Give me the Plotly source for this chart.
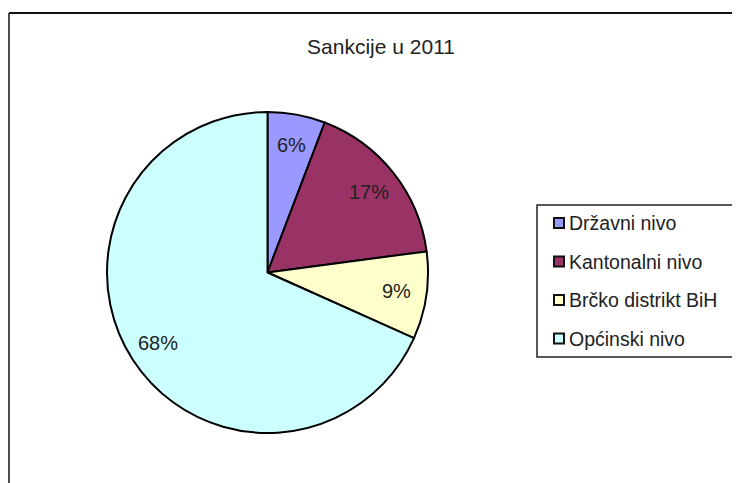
import math
import plotly.graph_objects as go

# Data
categories = ["Državni nivo", "Kantonalni nivo", "Brčko distrikt BiH", "Općinski nivo"]
values = [5.8, 17.1, 8.8, 68.3]
colors = ["#9999FF", "#993366", "#FFFFCC", "#CCFFFF"]
title_text = "Sankcije u 2011"

W, H = 740, 483
OFF = 8  # page body margin


def px(x):
    return (x - OFF) / W


def py(y):
    return 1 - (y - OFF) / H


FONT = "Liberation Sans, Arial, sans-serif"
cx, cy, r = 267.5, 272.5, 160.5

fig = go.Figure()
fig.add_trace(go.Pie(
    labels=categories,
    values=values,
    sort=False,
    direction="clockwise",
    rotation=0,
    marker=dict(colors=colors, line=dict(color="#000000", width=2)),
    textinfo="none",
    domain=dict(x=[px(cx - r), px(cx + r)], y=[py(cy + r), py(cy - r)]),
    showlegend=False,
    hoverinfo="label+percent",
))

shapes = []
annotations = []

# percentage labels placed at ~0.8 radius along each slice's mid-angle
total = sum(values)
cum = 0.0
for v in values:
    mid = (cum + v / 2) / total * 2 * math.pi
    cum += v
    lx = cx + 0.81 * r * math.sin(mid)
    ly = cy - 0.81 * r * math.cos(mid)
    annotations.append(dict(text=f"{round(v / total * 100)}%", xref="paper", yref="paper",
                            x=px(lx), y=py(ly), xanchor="center", yanchor="middle",
                            showarrow=False, font=dict(family=FONT, size=20, color="#222222")))

# chart frame (top and left edges visible)
shapes.append(dict(type="line", xref="paper", yref="paper", x0=px(9), x1=px(760), y0=py(13), y1=py(13),
                   line=dict(color="#111111", width=2)))
shapes.append(dict(type="line", xref="paper", yref="paper", x0=px(9), x1=px(9), y0=py(13), y1=py(500),
                   line=dict(color="#111111", width=1.5)))
# legend box
lx0, lx1, ly0, ly1 = 537, 735, 205, 357
shapes.append(dict(type="rect", xref="paper", yref="paper", x0=px(lx0), x1=px(lx1), y0=py(ly1), y1=py(ly0),
                   line=dict(color="#222222", width=1.5), fillcolor="white"))

item_y0 = 223
gap = 38.5
for i, (cat, col) in enumerate(zip(categories, colors)):
    yc = item_y0 + i * gap
    shapes.append(dict(type="rect", xref="paper", yref="paper",
                       x0=px(554), x1=px(564), y0=py(yc + 5), y1=py(yc - 5),
                       line=dict(color="#111111", width=2), fillcolor=col))
    annotations.append(dict(text=cat, xref="paper", yref="paper", x=px(567), y=py(yc),
                            xanchor="left", yanchor="middle", showarrow=False,
                            font=dict(family=FONT, size=19.5, color="#222222")))

fig.update_layout(
    width=W, height=H,
    margin=dict(l=0, r=0, t=0, b=0),
    paper_bgcolor="white",
    plot_bgcolor="white",
    title=dict(text=title_text, x=px(381), xanchor="center", y=py(47), yanchor="middle",
               font=dict(family=FONT, size=21, color="#222222")),
    shapes=shapes,
    annotations=annotations,
    showlegend=False,
)

fig.write_html("out.html")
